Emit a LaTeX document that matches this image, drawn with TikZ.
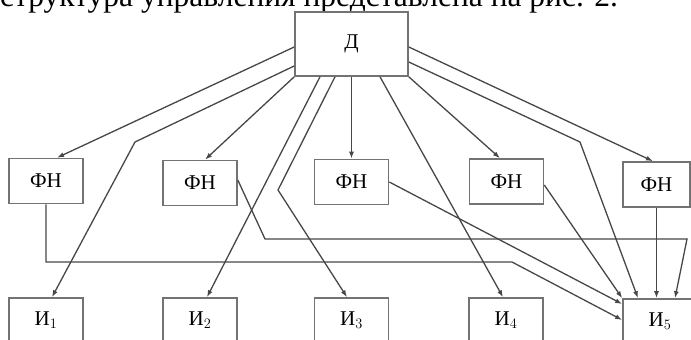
\documentclass[tikz,border=0pt]{standalone}
\usepackage{fontspec}
\setmainfont{Liberation Serif}
\usetikzlibrary{arrows.meta}

\begin{document}
\begin{tikzpicture}[x=1pt,y=-1pt,
    box/.style={draw=black!55, line width=1.6pt, minimum width=74pt, minimum height=45pt,
        inner sep=0pt, font=\fontsize{21}{23}\selectfont},
    link/.style={draw=black!72, line width=1.3pt},
    arr/.style={link, -{Latex[length=7pt,width=5pt]}}]
    \useasboundingbox (0,0) rectangle (691,340);

    % Caption line
    \node[anchor=base west, inner sep=0pt, font=\fontsize{31.5}{33}\selectfont] (cap) at (0,6.5)
        {структура управления представлена на рис. 2.};

    % Boxes
    \node[box, minimum width=113pt, minimum height=64pt] (D) at (351.5,44) {Д};
    \node[box] (F1) at (46,181) {ФН};
    \node[box] (F2) at (200,183) {ФН};
    \node[box] (F3) at (351.5,182) {ФН};
    \node[box] (F4) at (506.5,181.5) {ФН};
    \node[box, minimum width=67pt] (F5) at (656.5,184.5) {ФН};
    \node[box] (I1) at (46,320.5) {И$_1$};
    \node[box] (I2) at (200,320.5) {И$_2$};
    \node[box] (I3) at (351.5,320.5) {И$_3$};
    \node[box] (I4) at (506,320.5) {И$_4$};
    \node[box] (I5) at (660,321.5) {И$_5$};

    % Bends
    \coordinate (b1) at (135,142);
    \coordinate (b2) at (278,190);
    \coordinate (b3) at (580,142);
    \coordinate (k1) at (512,262);
    \coordinate (k2) at (265,239);
    \coordinate (k3) at (687,239);

    % Links from D
    \draw[arr] ([yshift=-3pt]D.west) -- ([xshift=11pt]F1.north);
    \draw[arr] ([yshift=-22pt]D.west) -- (b1) -- ([xshift=6pt]I1.north);
    \draw[arr] (D.south west) -- ([xshift=5pt]F2.north);
    \draw[arr] ([xshift=-31.5pt]D.south) -- ([xshift=7pt]I2.north);
    \draw[arr] ([xshift=-16.5pt]D.south) -- (b2) -- ([xshift=-4.5pt]I3.north);
    \draw[arr] (D.south) -- (F3.north);
    \draw[arr] ([xshift=28.5pt]D.south) -- ([xshift=-3pt]I4.north);
    \draw[arr] (D.south east) -- ([xshift=-6.5pt]F4.north);
    \draw[arr] ([yshift=-18pt]D.east) -- (b3) -- ([xshift=-22pt]I5.north);
    \draw[arr] ([yshift=-3pt]D.east) -- ([xshift=-3.5pt]F5.north);

    % Links to I5
    \draw[arr] (F1.south) |- (k1) -- ([yshift=1.5pt]I5.west);
    \draw[arr] ([yshift=3pt]F2.east) -- (k2) -- (k3) -- ([xshift=15pt]I5.north);
    \draw[arr] (F3.east) -- ([yshift=17.5pt]I5.west);
    \draw[arr] ([yshift=-3.5pt]F4.east) -- (I5.north west);
    \draw[arr] (F5.south) -- (F5.south |- I5.north);
\end{tikzpicture}
\end{document}
